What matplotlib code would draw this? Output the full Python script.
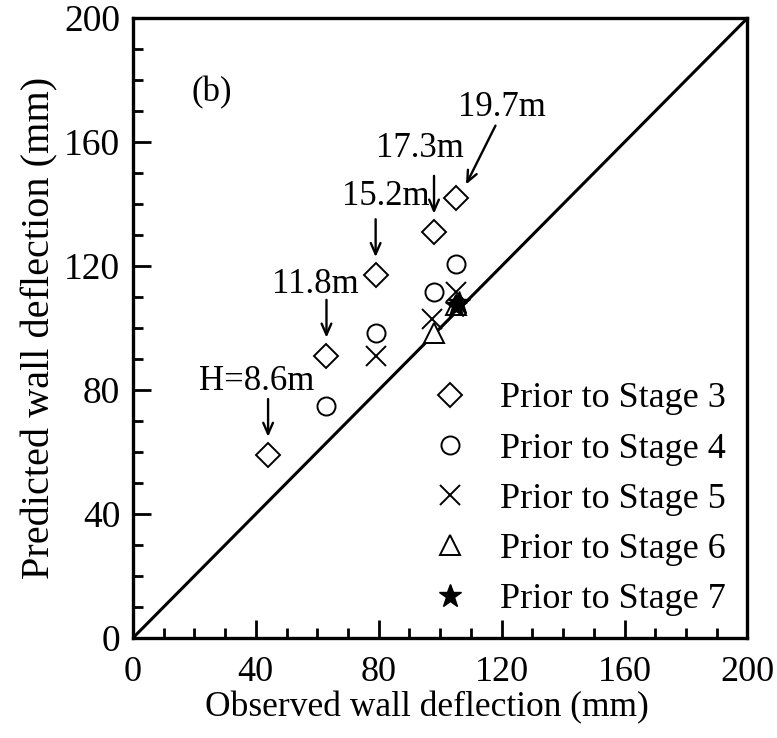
import numpy as np
from matplotlib import pyplot as plt
import matplotlib

matplotlib.rcParams['font.family'] = 'Liberation Serif'

# observed / predicted wall deflection (mm) before each stage
obs3 = [44, 63, 79, 98, 105]
pred3 = [59, 91, 117, 131, 142]
obs4 = [63, 79, 98, 105]
pred4 = [75, 98.5, 111.5, 120.5]
obs5 = [79, 97.5, 105]
pred5 = [91, 103, 111.5]
obs6 = [98, 105]
pred6 = [98.5, 107.5]
obs7 = [105, 106]
pred7 = [107, 108]

depth_labels = ['H=8.6m', '11.8m', '15.2m', '17.3m', '19.7m']

fig = plt.figure(figsize=(7.77, 7.38), dpi=100)
ax = fig.add_axes([0.171, 0.1355, 0.791, 0.840])

ax.plot([0, 200], [0, 200], 'k', linewidth=2.2)

mk = dict(linestyle='none', color='k', markerfacecolor='white', markeredgewidth=1.4)
ax.plot(obs3, pred3, marker='D', markersize=12, label='Prior to Stage 3', **mk)
ax.plot(obs4, pred4, marker='o', markersize=13, label='Prior to Stage 4', **mk)
ax.plot(obs5, pred5, marker='x', markersize=14, label='Prior to Stage 5', **mk)
ax.plot(obs6, pred6, marker='^', markersize=14, label='Prior to Stage 6', **mk)
ax.plot(obs7, pred7, linestyle='none', color='k', marker='*', markersize=17,
        label='Prior to Stage 7')

arr = dict(arrowstyle='->,head_length=0.8,head_width=0.35', linewidth=1.7, color='k')
fs = 25
# vertical arrows above the stage-3 points
text_pos = [(40.3, 82.6), (59.5, 113.9), (82.2, 142.3), (93.5, 158)]
for i in range(4):
    x, y = obs3[i], pred3[i]
    ax.annotate('', xy=(x, y + 5), xytext=(x, y + 19), arrowprops=arr)
    ax.text(text_pos[i][0], text_pos[i][1], depth_labels[i], fontsize=fs,
            ha='center', va='center')
ax.annotate('', xy=(obs3[4] + 3, pred3[4] + 3.5), xytext=(118.4, 166.1), arrowprops=arr)
ax.text(120, 171.3, depth_labels[4], fontsize=fs, ha='center', va='center')

ax.text(25.6, 175.8, '(b)', fontsize=fs, ha='center', va='center')

ax.set_xlim(0, 200)
ax.set_ylim(0, 200)
ax.set_xticks(np.arange(0, 201, 40))
ax.set_yticks(np.arange(0, 201, 40))
ax.set_xticks(np.arange(0, 201, 10), minor=True)
ax.set_yticks(np.arange(0, 201, 10), minor=True)
ax.tick_params(which='both', direction='in', top=False, right=False, width=2,
               labelsize=27)
ax.tick_params(axis='x', labelsize=26)
ax.tick_params(which='major', length=13)
ax.tick_params(which='minor', length=7)
ax.tick_params(axis='x', which='major', pad=13)
ax.tick_params(axis='y', which='major', pad=9)
for s in ax.spines.values():
    s.set_linewidth(2.4)

ax.set_xlabel('Observed wall deflection (mm)', fontsize=25.5, labelpad=0)
ax.xaxis.set_label_coords(0.478, -0.085)
ax.set_ylabel('Predicted wall deflection (mm)', fontsize=29, labelpad=4)

ax.legend(loc='lower right', bbox_to_anchor=(1.0, 0.0), frameon=False,
          fontsize=26, handlelength=1.2, handletextpad=0.78, labelspacing=0.47,
          borderaxespad=0.2)

fig.savefig('out.png')
